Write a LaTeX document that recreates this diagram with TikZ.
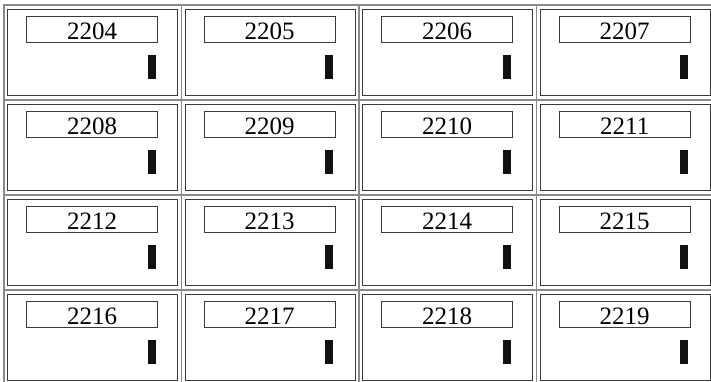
\documentclass[tikz,border=0pt]{standalone}
\usepackage{fontspec}
\setmainfont{Liberation Serif}
\usepackage{xcolor}
\definecolor{cGrid}{HTML}{8A8A8A}
\definecolor{cLine}{HTML}{3A3A3A}
\definecolor{cBar}{HTML}{111111}
\usetikzlibrary{positioning}
\tikzset{
  cell-grid/.style={draw=cGrid,line width=0.6pt,minimum width=88.75pt,
    minimum height=47.5pt,inner sep=0pt},
  cell-box/.style={draw=cLine,line width=0.5pt,minimum width=85pt,
    minimum height=43pt,inner sep=0pt},
  cell-label/.style={draw=cLine,line width=0.45pt,minimum width=65.5pt,
    minimum height=13pt,inner sep=0pt,text height=10.2pt,text depth=0pt,
    font=\fontsize{12.5}{12.5}\selectfont},
  cell-bar/.style={fill=cBar,minimum width=4pt,minimum height=12pt,inner sep=0pt},
}

\begin{document}
\begin{tikzpicture}[x=0.5pt,y=-0.5pt]
  \useasboundingbox (0,0) rectangle (711,381);
  \foreach \r in {0,...,3} {
    \foreach \c in {0,...,3} {
      \pgfmathtruncatemacro{\num}{2204+4*\r+\c}
      \node[cell-grid] (cell\num) at (92.75+177.5*\c,52.5+95*\r) {};
      \node[cell-box] (box\num) at (cell\num.center) {};
      \node[cell-label,below right=3.5pt and 9.5pt of box\num.north west]
        (label\num) {\num};
      \node[cell-bar,above left=8.5pt and 11pt of box\num.south east] (bar\num) {};
    }
  }
\end{tikzpicture}
\end{document}
